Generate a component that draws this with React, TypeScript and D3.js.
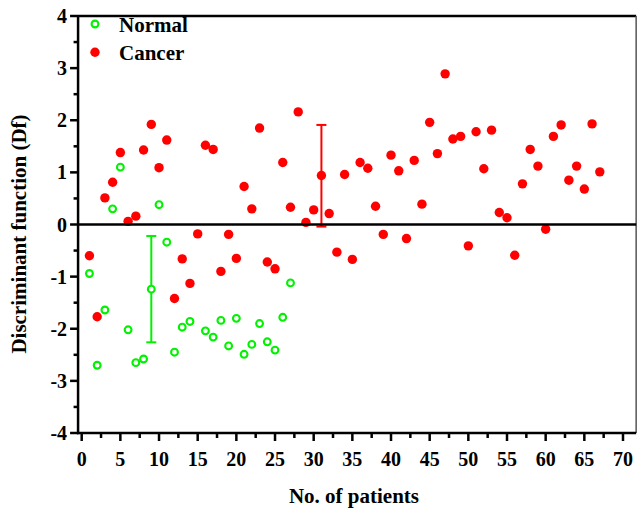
import React from 'react';
import * as d3 from 'd3';

// ---- data ----
const cancerPatients = [
  1, 2, 3, 4, 5, 6, 7, 8, 9, 10, 11, 12, 13, 14, 15, 16, 17, 18, 19, 20, 21, 22, 23, 24, 25, 26, 27, 28, 29, 30,
  32, 33, 34, 35, 36, 37, 38, 39, 40, 41, 42, 43, 44, 45, 46, 47, 48, 49, 50, 51, 52, 53, 54, 55, 56, 57, 58, 59,
  60, 61, 62, 63, 64, 65, 66, 67,
];
const cancerDf = [
  -0.6, -1.77, 0.51, 0.81, 1.38, 0.06, 0.16, 1.43, 1.92, 1.09, 1.62, -1.42, -0.66, -1.13, -0.18, 1.52, 1.44, -0.9,
  -0.19, -0.65, 0.73, 0.3, 1.85, -0.72, -0.85, 1.19, 0.33, 2.16, 0.04, 0.28,
  0.21, -0.53, 0.96, -0.67, 1.19, 1.08, 0.35, -0.19, 1.33, 1.03, -0.27, 1.23, 0.39, 1.96, 1.36, 2.89, 1.64, 1.69,
  -0.41, 1.78, 1.07, 1.81, 0.23, 0.13, -0.59, 0.78, 1.44, 1.12, -0.09, 1.69, 1.91, 0.85, 1.12, 0.68, 1.93, 1.01,
];
const normalPatients = [1, 2, 3, 4, 5, 6, 7, 8, 10, 11, 12, 13, 14, 16, 17, 18, 19, 20, 21, 22, 23, 24, 25, 26, 27];
const normalDf = [
  -0.94, -2.7, -1.64, 0.3, 1.1, -2.02, -2.65, -2.58, 0.38, -0.34, -2.45, -1.97, -1.86, -2.04, -2.16, -1.84, -2.33,
  -1.8, -2.49, -2.3, -1.9, -2.25, -2.41, -1.78, -1.12,
];
// mean ± SD markers: [position, mean, low, high]
const normalSummary = [9, -1.24, -2.26, -0.22];
const cancerSummary = [31, 0.94, -0.04, 1.91];

const xTicks = [0, 5, 10, 15, 20, 25, 30, 35, 40, 45, 50, 55, 60, 65, 70];
const yTicks = [-4, -3, -2, -1, 0, 1, 2, 3, 4];
const legendLabels = ['Normal', 'Cancer'];

const W = 639;
const H = 511;
const GREEN = '#00f200';
const RED = '#ff0000';
const FONT = '"Liberation Serif", "Times New Roman", serif';

export default function App() {
  const x = d3.scaleLinear().domain([0, 70]).range([81.7, 623]);
  const y = d3.scaleLinear().domain([-4, 4]).range([433, 16]);
  const left = x(-0.47);
  const right = x(71.7);
  const top = y(4);
  const bottom = y(-4);
  const xMinor = d3.range(0, 71, 2.5).filter((v) => v % 5 !== 0);
  const yMinor = d3.range(-4, 4.01, 0.5).filter((v) => v % 1 !== 0);

  const cancer = cancerPatients.map((p, i) => ({ p, v: cancerDf[i] }));
  const normal = normalPatients.map((p, i) => ({ p, v: normalDf[i] }));

  const errBar = (s: number[], color: string, filled: boolean) => {
    const [p, m, lo, hi] = s;
    const cx = x(p);
    return (
      <g>
        <line x1={cx} x2={cx} y1={y(lo)} y2={y(hi)} stroke={color} strokeWidth={2} />
        <line x1={cx - 5} x2={cx + 5} y1={y(lo)} y2={y(lo)} stroke={color} strokeWidth={2} />
        <line x1={cx - 5} x2={cx + 5} y1={y(hi)} y2={y(hi)} stroke={color} strokeWidth={2} />
        {filled ? (
          <circle cx={cx} cy={y(m)} r={4.7} fill={color} />
        ) : (
          <circle cx={cx} cy={y(m)} r={3.4} fill="white" stroke={color} strokeWidth={2.1} />
        )}
      </g>
    );
  };

  return (
    <svg width={W} height={H} style={{ position: 'absolute', left: 0, top: 0, background: 'white' }} fontFamily={FONT}>
      <rect x={0} y={0} width={W} height={H} fill="white" />
      {/* frame */}
      <line x1={left} x2={right} y1={top} y2={top} stroke="#000" strokeWidth={2.5} />
      <line x1={right} x2={right} y1={top} y2={bottom} stroke="#555" strokeWidth={1.5} />

      {/* points */}
      {normal.map((d, i) => (
        <circle key={'n' + i} cx={x(d.p)} cy={y(d.v)} r={3.4} fill="white" stroke={GREEN} strokeWidth={2.1} />
      ))}
      {cancer.map((d, i) => (
        <circle key={'c' + i} cx={x(d.p)} cy={y(d.v)} r={4.7} fill={RED} />
      ))}
      {errBar(normalSummary, GREEN, false)}
      {errBar(cancerSummary, RED, true)}

      {/* zero line */}
      <line x1={left} x2={right} y1={y(0)} y2={y(0)} stroke="#000" strokeWidth={2.5} />

      {/* axes */}
      <line x1={left} x2={left} y1={top - 1} y2={bottom + 1.2} stroke="#000" strokeWidth={2.5} />
      <line x1={left - 1} x2={right} y1={bottom} y2={bottom} stroke="#000" strokeWidth={2.5} />
      {yTicks.map((t) => (
        <g key={'yt' + t}>
          <line x1={left - 8} x2={left} y1={y(t)} y2={y(t)} stroke="#000" strokeWidth={2.5} />
          <text x={left - 11} y={y(t)} dy="0.35em" textAnchor="end" fontSize={20} fontWeight="bold">
            {t}
          </text>
        </g>
      ))}
      {yMinor.map((t) => (
        <line key={'ym' + t} x1={left - 4.5} x2={left} y1={y(t)} y2={y(t)} stroke="#000" strokeWidth={2.5} />
      ))}
      {xTicks.map((t) => (
        <g key={'xt' + t}>
          <line x1={x(t)} x2={x(t)} y1={bottom} y2={bottom + 8} stroke="#000" strokeWidth={2.5} />
          <text x={x(t)} y={bottom + 33} textAnchor="middle" fontSize={20} fontWeight="bold">
            {t}
          </text>
        </g>
      ))}
      {xMinor.map((t) => (
        <line key={'xm' + t} x1={x(t)} x2={x(t)} y1={bottom} y2={bottom + 5} stroke="#000" strokeWidth={2.5} />
      ))}

      {/* axis titles */}
      <text x={354} y={503} textAnchor="middle" fontSize={21} fontWeight="bold">
        No. of patients
      </text>
      <text
        transform={`translate(26, ${234}) rotate(-90)`}
        textAnchor="middle"
        fontSize={21}
        fontWeight="bold"
      >
        Discriminant function (Df)
      </text>

      {/* legend */}
      <circle cx={95} cy={24} r={3.4} fill="white" stroke={GREEN} strokeWidth={2.1} />
      <text x={119} y={32} fontSize={21} fontWeight="bold">
        {legendLabels[0]}
      </text>
      <circle cx={95} cy={52.3} r={4.7} fill={RED} />
      <text x={119} y={60} fontSize={21} fontWeight="bold">
        {legendLabels[1]}
      </text>
    </svg>
  );
}
